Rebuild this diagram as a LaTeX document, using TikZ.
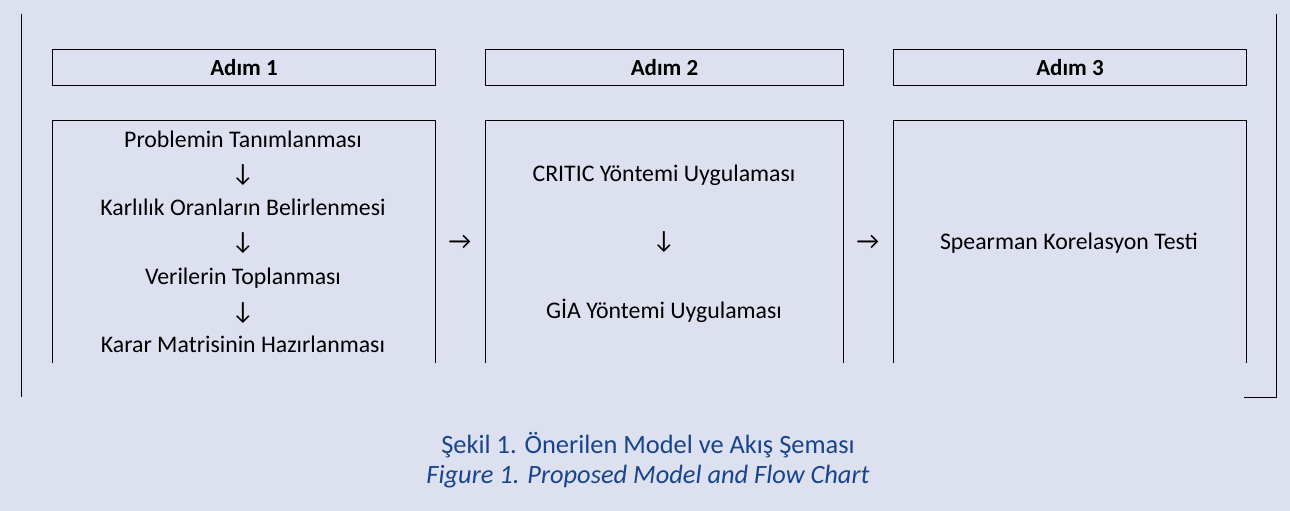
\documentclass[tikz,border=0pt]{standalone}
\usepackage{fontspec}
\setmainfont{Carlito}
\newfontfamily\arrowfont{Carlito}
\definecolor{bgcol}{RGB}{221,224,239}
\definecolor{capblue}{RGB}{24,68,140}
\begin{document}
\begin{tikzpicture}[x=1pt,y=-1pt, line width=1pt, line join=round,
	txt/.style={inner sep=0pt, anchor=base, font=\fontsize{23.8}{28}\selectfont},
	head/.style={draw, anchor=north west, minimum height=36pt, inner sep=0pt, font=\fontsize{23}{28}\selectfont\bfseries},
	arr/.style={inner sep=0pt, font=\arrowfont\fontsize{25}{28}\selectfont},
	captxt/.style={inner sep=0pt, anchor=base, text=capblue, font=\fontsize{26.4}{30}\selectfont}]
	\def\ytop{120} \def\ybot{363} % kutularin ust ve alt sinirlari
	
	\fill[bgcol] (0,0) rectangle (1290,511);
	\useasboundingbox (0,0) rectangle (1290,511);
	
	% cerceve
	\draw (21,14) -- (21,397);
	\draw (1276,14) -- (1276,397) -- (1244,397);
	
	% basliklar
	\node[head, minimum width=383pt] (h1) at (52,49) {Adım 1};
	\node[head, minimum width=358pt] (h2) at (485,49) {Adım 2};
	\node[head, minimum width=353pt] (h3) at (893,49) {Adım 3};
	
	% kutular (alt kenar acik)
	\draw (52,\ybot) |- (435,\ytop) -- (435,\ybot);
	\draw (485,\ybot) |- (843,\ytop) -- (843,\ybot);
	\draw (893,\ybot) |- (1246,\ytop) -- (1246,\ybot);
	
	% Adim 1
	\node[txt] (p1) at (243,147) {Problemin Tanımlanması};
	\node[arr] (d1) at (243,175) {↓};
	\node[txt] (p2) at (243,215) {Karlılık Oranların Belirlenmesi};
	\node[arr] (d2) at (243,243) {↓};
	\node[txt] (p3) at (243,284) {Verilerin Toplanması};
	\node[arr] (d3) at (243,313) {↓};
	\node[txt] (p4) at (243,352) {Karar Matrisinin Hazırlanması};
	
	% Adim 2
	\node[txt] (c1) at (664,181) {CRITIC Yöntemi Uygulaması};
	\node[arr] (d4) at (664,242) {↓};
	\node[txt] (c2) at (664,318) {GİA Yöntemi Uygulaması};
	
	% Adim 3
	\node[txt] (s1) at (1069,249) {Spearman Korelasyon Testi};
	
	\node[arr] (r1) at (460,242) {→};
	\node[arr] (r2) at (868,242) {→};
	
	% alt yazi
	\node[captxt] (cap1) at (648,453) {Şekil 1. Önerilen Model ve Akış Şeması};
	\node[captxt, font=\fontsize{26.4}{30}\selectfont\itshape] (cap2) at (648,483) {Figure 1. Proposed Model and Flow Chart};
\end{tikzpicture}
\end{document}
